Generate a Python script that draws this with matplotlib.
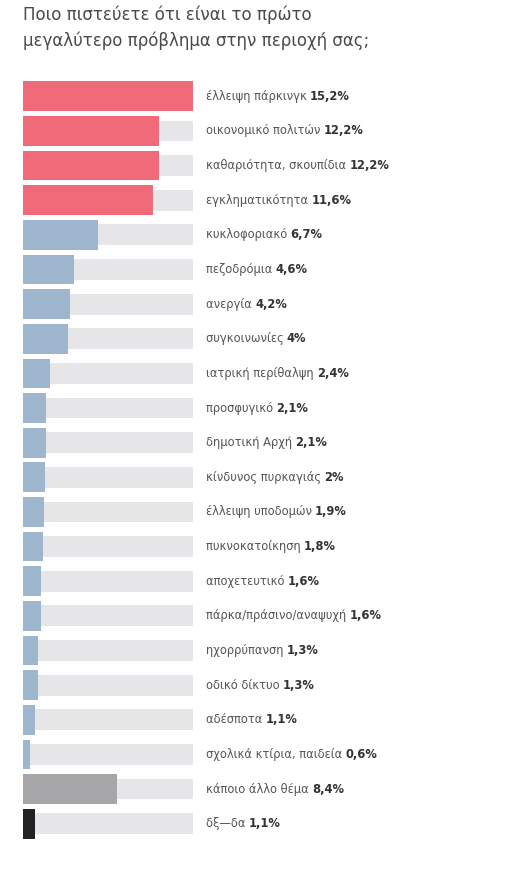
import matplotlib.pyplot as plt

labels = ['έλλειψη πάρκινγκ', 'οικονομικό πολιτών', 'καθαριότητα, σκουπίδια', 'εγκληματικότητα',
          'κυκλοφοριακό', 'πεζοδρόμια', 'ανεργία', 'συγκοινωνίες', 'ιατρική περίθαλψη',
          'προσφυγικό', 'δημοτική Αρχή', 'κίνδυνος πυρκαγιάς', 'έλλειψη υποδομών',
          'πυκνοκατοίκηση', 'αποχετευτικό', 'πάρκα/πράσινο/αναψυχή', 'ηχορρύπανση',
          'οδικό δίκτυο', 'αδέσποτα', 'σχολικά κτίρια, παιδεία', 'κάποιο άλλο θέμα', 'δξ—δα']
values = [15.2, 12.2, 12.2, 11.6, 6.7, 4.6, 4.2, 4.0, 2.4, 2.1, 2.1, 2.0, 1.9,
          1.8, 1.6, 1.6, 1.3, 1.3, 1.1, 0.6, 8.4, 1.1]
colors = ['#f06a7a'] * 4 + ['#9db5cd'] * 16 + ['#a7a7a9', '#222222']

fig = plt.figure(figsize=(5.16, 8.69), dpi=100)
ax = fig.add_axes([23/516, 1 - 841/869, 170/516, (841 - 79)/869])
n = len(values)
ys = list(range(n))
ax.barh(ys, [15.2] * n, height=0.6, color='#e6e6e8')
ax.barh(ys, values, height=0.86, color=colors)
ax.set_xlim(0, 15.2)
ax.set_ylim(n - 0.5, -0.5)
ax.axis('off')

fig.canvas.draw()
r = fig.canvas.get_renderer()
for y, lab, v in zip(ys, labels, values):
    t = ax.annotate(lab + ' ', (1, y), xycoords=('axes fraction', 'data'),
                    xytext=(9, 0), textcoords='offset points', va='center',
                    fontsize=8.3, color='#555555')
    bb = t.get_window_extent(r)
    vs = ('%g' % v).replace('.', ',') + '%'
    ax.annotate(vs, (bb.x1, bb.y0), xycoords='figure pixels', va='bottom',
                fontsize=8.3, color='#333333', fontweight='bold')

fig.text(23/516, 1 - 6/869, 'Ποιο πιστεύετε ότι είναι το πρώτο\nμεγαλύτερο πρόβλημα στην περιοχή σας;',
         va='top', ha='left', fontsize=12, color='#4a4a4a', linespacing=1.45)
fig.savefig('out.png')
